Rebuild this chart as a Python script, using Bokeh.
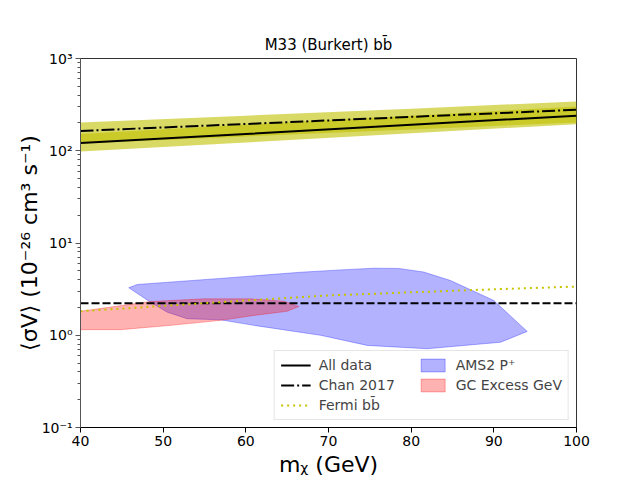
from bokeh.plotting import figure
from bokeh.models import Legend, LegendItem, FixedTicker, Range1d, CustomJSTickFormatter
from bokeh.embed import file_html
from bokeh.resources import INLINE

# ---- data ----
m_line = [40, 60, 80, 100]
all_data = [121, 152, 191, 240]
all_lo = [98, 123, 155, 194]
all_hi = [152, 191, 240, 301]
chan = [164, 195, 233, 278]
chan_lo = [120, 143, 170, 203]
chan_hi = [202, 240, 286, 342]

dash_m = [40, 100]
dash_s = [2.22, 2.22]

fermi_m = [40, 50, 60, 70, 80, 90, 100]
fermi_s = [1.82, 2.08, 2.38, 2.70, 2.92, 3.15, 3.37]

ams_m = [45.84, 46.86, 56.94, 66.61, 71.45, 75.5, 78.5, 81.5, 84.76, 90.0, 94.04,
         90.81, 81.94, 74.68, 69.03, 60.97, 56.94, 52.91, 50.49, 48.47]
ams_s = [3.27, 3.55, 4.13, 4.82, 5.11, 5.33, 5.30, 4.85, 3.92, 2.38, 1.10,
         0.84, 0.714, 0.776, 1.0, 1.28, 1.47, 1.51, 1.78, 2.28]

gc_m = [40, 48.47, 54.92, 60.56, 64.59, 66.41, 65.0, 60.97, 56.94, 50.89, 44.84, 40]
gc_s = [1.82, 2.32, 2.48, 2.48, 2.34, 2.05, 1.82, 1.64, 1.45, 1.28, 1.15, 1.15]

x_ticks = [40, 50, 60, 70, 80, 90, 100]
y_ticks = [0.1, 1, 10, 100, 1000]

FONT = "DejaVu Sans"

p = figure(width=640, height=480, y_axis_type="log",
           x_range=Range1d(40, 100), y_range=Range1d(0.1, 1000),
           output_backend="svg", toolbar_location=None,
           title="M33 (Burkert) bb\u0304",
           min_border_left=80, min_border_right=64, min_border_top=58, min_border_bottom=53)

p.title.align = "center"
p.title.text_font = FONT
p.title.text_font_size = "15px"
p.title.text_font_style = "normal"
p.title.text_color = "black"

p.xgrid.visible = False
p.ygrid.visible = False
p.outline_line_color = "#333333"
p.background_fill_color = "white"
p.border_fill_color = "white"

# regions
r_ams = p.patch(ams_m, ams_s, fill_color="blue", fill_alpha=0.3,
                line_color="blue", line_alpha=0.3, line_width=1)
r_gc = p.patch(gc_m, gc_s, fill_color="red", fill_alpha=0.3,
               line_color="red", line_alpha=0.3, line_width=1)

# yellow bands
p.varea(x=m_line, y1=all_lo, y2=all_hi, fill_color="#bfbf00", fill_alpha=0.6)
p.varea(x=m_line, y1=chan_lo, y2=chan_hi, fill_color="#bfbf00", fill_alpha=0.6)

p.line(dash_m, dash_s, line_color="black", line_width=2, line_dash="8 3")
r_all = p.line(m_line, all_data, line_color="black", line_width=2)
r_chan = p.line(m_line, chan, line_color="black", line_width=2, line_dash="13 3 2 3")
r_fermi = p.line(fermi_m, fermi_s, line_color="#c4c400", line_width=2, line_dash="2 4")

# axes
p.xaxis.ticker = FixedTicker(ticks=x_ticks)
minor = [k * 10.0 ** e for e in range(-1, 3) for k in range(2, 10)]
p.yaxis.ticker = FixedTicker(ticks=y_ticks, minor_ticks=minor)
p.yaxis.formatter = CustomJSTickFormatter(code="""
const sup = {"-":"\u207b","0":"\u2070","1":"\u00b9","2":"\u00b2","3":"\u00b3"};
const e = Math.round(Math.log10(tick));
return "10" + String(e).split("").map(c => sup[c]).join("");
""")

for ax in (p.xaxis[0], p.yaxis[0]):
    ax.major_label_text_font = FONT
    ax.major_label_text_font_size = "14px"
    ax.major_label_text_color = "black"
    ax.axis_label_text_font = FONT
    ax.axis_label_text_font_size = "22px"
    ax.axis_label_text_font_style = "normal"
    ax.axis_label_text_color = "black"
    ax.major_tick_out = 5
    ax.major_tick_in = 0
    ax.minor_tick_out = 3
    ax.minor_tick_in = 0
    ax.major_label_standoff = 3
    ax.axis_label_standoff = 3

p.yaxis.axis_label_standoff = -3
p.xaxis.minor_tick_line_color = None
p.xaxis.axis_line_color = "black"
p.yaxis.axis_line_color = "#555555"
p.yaxis.major_tick_line_color = "#555555"
p.yaxis.minor_tick_line_color = "#555555"
p.xaxis.axis_label = "m\u1d6a (GeV)"
p.yaxis.axis_label = "\u27e8\u03c3V\u27e9 (10\u207b\u00b2\u2076 cm\u00b3 s\u207b\u00b9)"

legend = Legend(items=[
    LegendItem(label="All data", renderers=[r_all]),
    LegendItem(label="Chan 2017", renderers=[r_chan]),
    LegendItem(label="Fermi bb\u0304", renderers=[r_fermi]),
    LegendItem(label="AMS2 P\u207a", renderers=[r_ams]),
    LegendItem(label="GC Excess GeV", renderers=[r_gc]),
], location="bottom_right", nrows=3)
legend.label_text_font = FONT
legend.label_text_font_size = "14px"
legend.glyph_width = 30
legend.glyph_height = 16
legend.label_height = 16
legend.spacing = 4
legend.label_standoff = 8
legend.label_width = 95
legend.padding = 6
legend.margin = 7
legend.border_line_color = "#cccccc"
legend.border_line_width = 1
legend.background_fill_alpha = 1.0
p.add_layout(legend)

open("out.html", "w").write(file_html(p, INLINE))
